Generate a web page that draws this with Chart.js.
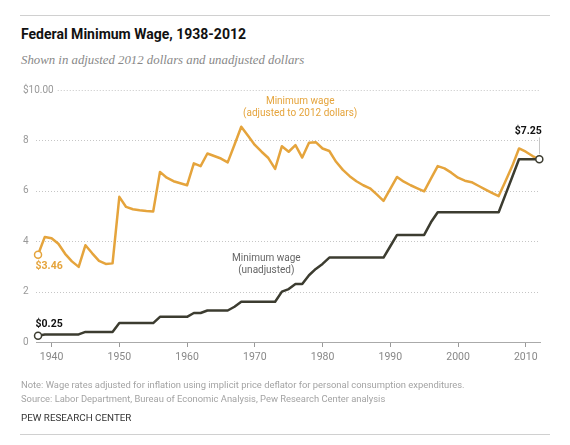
<!DOCTYPE html>
<html>
<head>
<meta charset="utf-8">
<script src="https://cdn.jsdelivr.net/npm/chart.js@4.4.0/dist/chart.umd.min.js"></script>
<style>
  body { margin: 0; background: #fff; width: 570px; height: 445px; position: relative; overflow: hidden; }
  .rule { position: absolute; left: 20px; width: 530px; border-top: 1px solid #d0d0d0; }
  .txt { position: absolute; left: 21px; white-space: nowrap; }
  #title { top: 25px; font: bold 14px/18px Roboto, sans-serif; color: #111; }
  #subtitle { top: 52px; font: italic 12.8px/16px "Liberation Serif", serif; color: #888; }
  #note, #source { font: 9.4px/13px Roboto, sans-serif; color: #a3a3a3; }
  #note { top: 378px; }
  #source { top: 392px; }
  #credit { top: 411px; font: 9.8px/14px Roboto, sans-serif; color: #333; }
  #chart { position: absolute; left: 0; top: 0; }
</style>
</head>
<body>
<div class="rule" style="top:15px"></div>
<div class="txt" id="title">Federal Minimum Wage, 1938-2012</div>
<div class="txt" id="subtitle">Shown in adjusted 2012 dollars and unadjusted dollars</div>
<canvas id="chart" width="570" height="445"></canvas>
<div class="txt" id="note">Note: Wage rates adjusted for inflation using implicit price deflator for personal consumption expenditures.</div>
<div class="txt" id="source">Source: Labor Department, Bureau of Economic Analysis, Pew Research Center analysis</div>
<div class="txt" id="credit">PEW RESEARCH CENTER</div>
<div class="rule" style="top:434px"></div>

<script>
// Years on the x axis
const years = [
  1938, 1939, 1940, 1941, 1942, 1943, 1944, 1945, 1946, 1947,
  1948, 1949, 1950, 1951, 1952, 1953, 1954, 1955, 1956, 1957,
  1958, 1959, 1960, 1961, 1962, 1963, 1964, 1965, 1966, 1967,
  1968, 1969, 1970, 1971, 1972, 1973, 1974, 1975, 1976, 1977,
  1978, 1979, 1980, 1981, 1982, 1983, 1984, 1985, 1986, 1987,
  1988, 1989, 1990, 1991, 1992, 1993, 1994, 1995, 1996, 1997,
  1998, 1999, 2000, 2001, 2002, 2003, 2004, 2005, 2006, 2007,
  2008, 2009, 2010, 2011, 2012
];

// Minimum wage in 2012 dollars
const adjustedWage = [
  3.46, 4.17, 4.12, 3.90, 3.50, 3.20, 2.98, 3.84, 3.52, 3.22,
  3.10, 3.12, 5.76, 5.36, 5.27, 5.23, 5.20, 5.18, 6.75, 6.52,
  6.38, 6.30, 6.22, 7.09, 6.98, 7.48, 7.38, 7.28, 7.13, 7.83,
  8.54, 8.18, 7.82, 7.55, 7.30, 6.87, 7.77, 7.55, 7.81, 7.32,
  7.91, 7.93, 7.68, 7.58, 7.15, 6.83, 6.58, 6.38, 6.22, 6.10,
  5.86, 5.60, 6.08, 6.55, 6.36, 6.22, 6.10, 5.98, 6.48, 6.98,
  6.89, 6.72, 6.52, 6.40, 6.34, 6.20, 6.06, 5.92, 5.79, 6.38,
  6.98, 7.68, 7.55, 7.38, 7.25
];

// Minimum wage, unadjusted
const nominalWage = [
  0.25, 0.30, 0.30, 0.30, 0.30, 0.30, 0.30, 0.40, 0.40, 0.40,
  0.40, 0.40, 0.75, 0.75, 0.75, 0.75, 0.75, 0.75, 1.00, 1.00,
  1.00, 1.00, 1.00, 1.15, 1.15, 1.25, 1.25, 1.25, 1.25, 1.40,
  1.60, 1.60, 1.60, 1.60, 1.60, 1.60, 2.00, 2.10, 2.30, 2.30,
  2.65, 2.90, 3.10, 3.35, 3.35, 3.35, 3.35, 3.35, 3.35, 3.35,
  3.35, 3.35, 3.80, 4.25, 4.25, 4.25, 4.25, 4.25, 4.75, 5.15,
  5.15, 5.15, 5.15, 5.15, 5.15, 5.15, 5.15, 5.15, 5.15, 5.85,
  6.55, 7.25, 7.25, 7.25, 7.25
];

// Axis ticks
const xTicks = [1940, 1950, 1960, 1970, 1980, 1990, 2000, 2010];
const yTicks = [0, 2, 4, 6, 8, 10];
const yTickLabels = ['0', '2', '4', '6', '8', '$10.00'];

const ORANGE = '#e5a43c';
const DARK = '#3c3c30';
const FONT = 'Roboto, sans-serif';

const lastIdx = years.length - 1;

// y labels + gridlines that start after their label, plus the text labels on the chart
const extrasPlugin = {
  id: 'extras',
  beforeDatasetsDraw(chart) {
    const { ctx, chartArea, scales: { y } } = chart;
    ctx.save();
    ctx.font = '10px ' + FONT;
    ctx.textAlign = 'left';
    ctx.textBaseline = 'middle';
    yTicks.forEach((v, i) => {
      const py = y.getPixelForValue(v);
      const lw = ctx.measureText(yTickLabels[i]).width;
      ctx.fillStyle = '#999';
      ctx.fillText(yTickLabels[i], y.left, py);
      if (v === 0) return;
      const gy = Math.round(py) + 0.5;
      const x0 = Math.max(chartArea.left, y.left + lw + 4);
      ctx.strokeStyle = '#c6c6c6';
      ctx.lineWidth = 1;
      ctx.setLineDash([1, 2]);
      ctx.beginPath();
      ctx.moveTo(x0, gy);
      ctx.lineTo(chartArea.right, gy);
      ctx.stroke();
      ctx.setLineDash([]);
    });
    ctx.restore();
  },
  afterDatasetsDraw(chart) {
    const { ctx, scales: { x, y } } = chart;
    ctx.save();
    ctx.textBaseline = 'middle';

    // series labels
    ctx.font = '10px ' + FONT;
    ctx.textAlign = 'center';
    ctx.fillStyle = ORANGE;
    const ax = x.getPixelForValue(1976.7);
    ctx.fillText('Minimum wage', ax, y.getPixelForValue(9.53));
    ctx.fillText('(adjusted to 2012 dollars)', ax, y.getPixelForValue(9.07));
    ctx.fillStyle = '#666';
    const ux = x.getPixelForValue(1971.7);
    ctx.fillText('Minimum wage', ux, y.getPixelForValue(3.31));
    ctx.fillText('(unadjusted)', ux, y.getPixelForValue(2.82));

    // value labels
    ctx.font = 'bold 10.5px ' + FONT;
    ctx.textAlign = 'left';
    const x0 = x.getPixelForValue(years[0]) - 2.5;
    ctx.fillStyle = ORANGE;
    ctx.fillText('$' + adjustedWage[0].toFixed(2), x0, y.getPixelForValue(adjustedWage[0]) + 12);
    ctx.fillStyle = '#111';
    ctx.fillText('$' + nominalWage[0].toFixed(2), x0, y.getPixelForValue(nominalWage[0]) - 11);

    const ex = x.getPixelForValue(years[lastIdx]);
    const ey = y.getPixelForValue(nominalWage[lastIdx]);
    ctx.textAlign = 'right';
    ctx.fillText('$' + nominalWage[lastIdx].toFixed(2), ex + 2.5, ey - 28);
    ctx.strokeStyle = '#c6c6c6';
    ctx.lineWidth = 1;
    ctx.beginPath();
    ctx.moveTo(Math.round(ex) + 0.5, ey - 22);
    ctx.lineTo(Math.round(ex) + 0.5, ey - 5);
    ctx.stroke();
    ctx.restore();
  }
};

function endPoint(indexes) {
  return ctx => indexes.includes(ctx.dataIndex) ? 3.5 : 0;
}

new Chart(document.getElementById('chart'), {
  type: 'line',
  data: {
    datasets: [
      {
        label: 'Minimum wage (unadjusted)',
        data: years.map((yr, i) => ({ x: yr, y: nominalWage[i] })),
        borderColor: DARK,
        borderWidth: 2.5,
        pointRadius: endPoint([0, lastIdx]),
        pointBackgroundColor: '#fff',
        pointBorderColor: DARK,
        pointBorderWidth: 1.5,
        tension: 0,
        clip: false
      },
      {
        label: 'Minimum wage (adjusted to 2012 dollars)',
        data: years.map((yr, i) => ({ x: yr, y: adjustedWage[i] })),
        borderColor: ORANGE,
        borderWidth: 2.5,
        pointRadius: endPoint([0]),
        pointBackgroundColor: '#fff',
        pointBorderColor: ORANGE,
        pointBorderWidth: 1.5,
        tension: 0,
        clip: false
      }
    ]
  },
  options: {
    responsive: false,
    animation: false,
    devicePixelRatio: 1,
    layout: { padding: { left: 23, right: 30, top: 90, bottom: 78 } },
    plugins: { legend: { display: false }, tooltip: { enabled: false } },
    elements: { line: { borderJoinStyle: 'round', borderCapStyle: 'round' } },
    scales: {
      x: {
        type: 'linear',
        min: 1937.7,
        max: 2012.1,
        afterBuildTicks: scale => { scale.ticks = xTicks.map(v => ({ value: v })); },
        afterFit: scale => { scale.height = 25; },
        grid: { drawOnChartArea: false, drawTicks: true, tickLength: 5, color: '#999', tickWidth: 1 },
        border: { display: true, color: '#aaa', width: 1 },
        ticks: { color: '#888', font: { family: FONT, size: 10.5 }, padding: 4, maxRotation: 0, callback: v => String(v) }
      },
      y: {
        min: 0,
        max: 10,
        afterBuildTicks: scale => { scale.ticks = yTicks.map(v => ({ value: v })); },
        afterFit: scale => { scale.width = 13; },
        grid: { display: false },
        border: { display: false },
        ticks: { display: false }
      }
    }
  },
  plugins: [extrasPlugin]
});
</script>
</body>
</html>
